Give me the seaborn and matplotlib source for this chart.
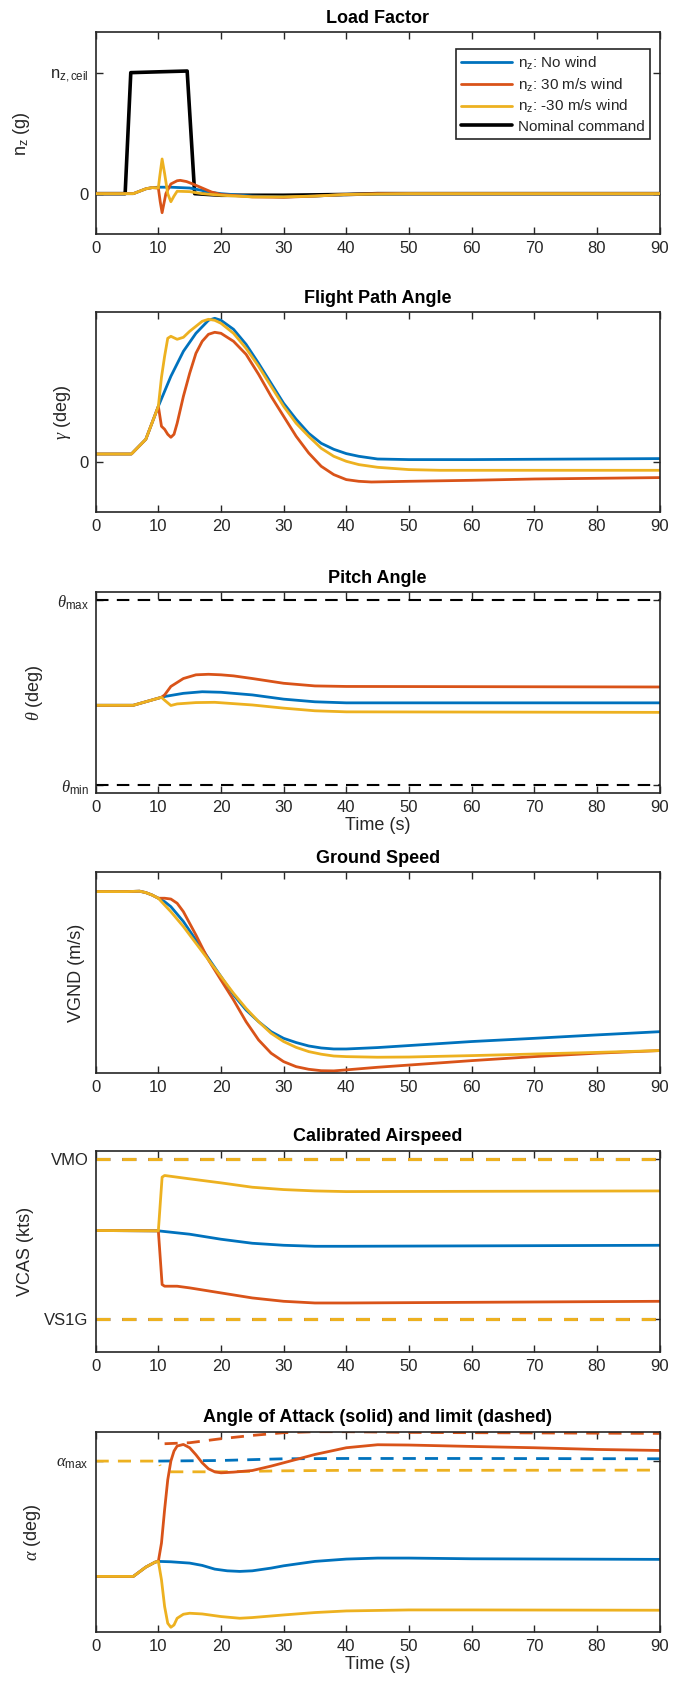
import matplotlib
matplotlib.use("Agg")
import matplotlib.pyplot as plt
import seaborn as sns
import numpy as np
import pandas as pd

sns.set_theme(style="ticks")
plt.rcParams['font.family'] = ['Liberation Sans', 'DejaVu Sans']
plt.rcParams['mathtext.fontset'] = 'custom'
plt.rcParams['mathtext.rm'] = 'Liberation Sans'
plt.rcParams['mathtext.it'] = 'Liberation Serif:italic'
plt.rcParams['mathtext.bf'] = 'Liberation Sans:bold'

BLUE, RED, YEL, BLK = '#0072BD', '#D95319', '#EDB120', '#000000'
AXC = '#262626'

x_ticks = [0, 10, 20, 30, 40, 50, 60, 70, 80, 90]

# ---------------- Load factor ----------------
t_nz_cmd = [0, 4.7, 5.6, 10, 14.6, 15.8, 20, 30, 40, 45, 90]
nz_cmd = [0, 0, 1.50, 1.51, 1.52, 0, -0.02, -0.02, -0.01, 0, 0]
t_nz_none = [0, 6, 7, 8, 9, 10, 12, 15, 17, 18, 20, 25, 30, 35, 40, 50, 90]
nz_none = [0, 0, 0.03, 0.06, 0.075, 0.08, 0.08, 0.07, 0.04, 0.02, 0, -0.03, -0.04, -0.03, -0.01, 0, 0]
t_nz_p30 = [0, 6, 7, 8, 9, 10, 10.3, 10.6, 11.0, 11.2, 12, 13, 13.5, 14.5, 15.5, 17, 18.5, 20, 25, 30, 35, 40, 45, 90]
nz_p30 = [0, 0, 0.03, 0.06, 0.075, 0.07, -0.10, -0.236, -0.08, 0, 0.12, 0.16, 0.165, 0.15, 0.12, 0.07, 0.02, -0.01, -0.04, -0.045, -0.03, -0.01, 0, 0]
t_nz_m30 = [0, 6, 7, 8, 9, 10, 10.2, 10.6, 11, 11.5, 12, 12.5, 13, 15, 17, 20, 25, 30, 35, 40, 50, 90]
nz_m30 = [0, 0, 0.03, 0.06, 0.075, 0.07, 0.2, 0.43, 0.25, 0.0, -0.10, -0.03, 0.03, 0.025, 0.0, -0.02, -0.04, -0.04, -0.03, -0.01, 0, 0]
nz_ceil = 1.5
nz_ylim = (-0.5, 2.0)

# ---------------- Flight path angle ----------------
t_g_none = [0, 5.7, 8, 10, 12, 14, 16, 18, 19, 20, 22, 24, 26, 28, 30, 32, 34, 36, 38, 40, 42, 45, 50, 60, 90]
g_none = [0.83, 0.83, 2.3, 5.6, 8.6, 11.1, 12.9, 14.2, 14.4, 14.2, 13.3, 11.8, 9.9, 7.9, 5.9, 4.3, 2.9, 1.9, 1.3, 0.87, 0.6, 0.33, 0.27, 0.27, 0.37]
t_g_p30 = [0, 5.7, 8, 10, 10.5, 11, 11.5, 12, 12.5, 13, 14, 15, 16, 17, 18, 19, 20, 22, 24, 26, 28, 30, 32, 34, 36, 38, 40, 42, 44, 50, 60, 70, 80, 90]
g_p30 = [0.83, 0.83, 2.3, 5.6, 3.6, 3.3, 2.8, 2.5, 2.8, 3.9, 6.6, 8.9, 10.9, 12.1, 12.8, 13.0, 12.9, 12.1, 10.8, 8.8, 6.6, 4.6, 2.6, 0.93, -0.4, -1.23, -1.73, -1.9, -1.97, -1.9, -1.8, -1.67, -1.6, -1.53]
t_g_m30 = [0, 5.7, 8, 10, 10.5, 11, 11.5, 12, 13, 14, 15, 16, 17, 18, 19, 20, 22, 24, 26, 28, 30, 32, 34, 36, 38, 40, 42, 45, 50, 55, 90]
g_m30 = [0.83, 0.83, 2.3, 5.6, 8.5, 10.6, 12.4, 12.6, 12.3, 12.5, 13.1, 13.6, 14.1, 14.3, 14.2, 13.9, 12.9, 11.4, 9.6, 7.6, 5.6, 3.9, 2.6, 1.4, 0.6, 0.1, -0.23, -0.5, -0.73, -0.8, -0.8]
g_ylim = (-5, 15)

# ---------------- Pitch angle ----------------
t_th_none = [0, 6, 10.5, 11, 14, 17, 20, 25, 30, 35, 40, 90]
th_none = [5.14, 5.14, 6.65, 6.8, 7.4, 7.7, 7.6, 7.1, 6.3, 5.8, 5.6, 5.6]
t_th_p30 = [0, 6, 10.5, 11, 12, 14, 16, 18, 20, 22, 25, 30, 35, 40, 90]
th_p30 = [5.14, 5.14, 6.65, 7.1, 8.7, 10.2, 10.9, 11.0, 10.9, 10.7, 10.2, 9.3, 8.8, 8.7, 8.6]
t_th_m30 = [0, 6, 10.5, 11, 12, 13, 16, 19, 25, 30, 35, 40, 90]
th_m30 = [5.14, 5.14, 6.65, 6.1, 5.1, 5.4, 5.65, 5.7, 5.2, 4.6, 4.1, 3.9, 3.8]
th_max, th_min = 25.0, -10.0
th_ylim = (-11.5, 26.5)

# ---------------- Ground speed ----------------
t_v_none = [0, 5, 7, 8, 9, 10, 11, 12, 14, 16, 18, 20, 22, 24, 26, 28, 30, 32, 34, 36, 38, 40, 45, 50, 60, 70, 80, 90]
v_none = [90.4, 90.4, 90.6, 89.9, 88.7, 87.1, 85.4, 82.9, 75.5, 66.3, 57.2, 48.1, 39.0, 31.5, 25.7, 20.7, 17.4, 15.3, 13.6, 12.6, 12.1, 12.1, 12.8, 13.8, 15.8, 17.4, 19.1, 20.7]
t_v_p30 = [0, 5, 7, 8, 9, 10, 11, 12, 13, 14, 16, 18, 20, 22, 24, 26, 28, 30, 32, 34, 36, 38, 40, 45, 50, 60, 70, 80, 90]
v_p30 = [90.4, 90.4, 90.6, 89.9, 88.7, 87.1, 87.1, 86.7, 84.6, 80.4, 68.8, 56.4, 46.4, 36.5, 25.7, 16.6, 10.0, 5.8, 3.3, 2.0, 1.3, 1.2, 1.7, 3.0, 4.1, 6.3, 8.3, 10.0, 11.3]
t_v_m30 = [0, 5, 7, 8, 9, 10, 11, 12, 14, 16, 18, 20, 22, 24, 26, 28, 30, 32, 34, 36, 38, 40, 45, 50, 60, 70, 80, 90]
v_m30 = [90.4, 90.4, 90.6, 89.9, 88.7, 87.1, 83.7, 80.4, 73.0, 64.7, 56.4, 48.1, 39.8, 32.3, 25.7, 19.9, 15.8, 12.9, 10.8, 9.5, 8.6, 8.3, 8.0, 8.1, 8.8, 9.6, 10.4, 11.3]
v_ylim = (0, 100)

# ---------------- Calibrated airspeed ----------------
t_c_none = [0, 10, 15, 20, 25, 30, 35, 40, 90]
c_none = [245.2, 244.8, 240.8, 234.8, 230.0, 227.6, 226.4, 226.4, 227.6]
t_c_p30 = [0, 10, 10.6, 11, 13, 15, 20, 25, 30, 35, 40, 50, 60, 90]
c_p30 = [245.2, 244.8, 180.8, 178.8, 178.8, 176.8, 170.8, 164.8, 160.8, 158.8, 158.8, 159.2, 159.6, 160.8]
t_c_m30 = [0, 10, 10.6, 11, 15, 20, 25, 30, 35, 40, 90]
c_m30 = [245.2, 244.8, 308.8, 310.8, 306.8, 302.0, 296.8, 294.0, 292.4, 291.6, 292.4]
v_mo, v_s1g = 330.0, 140.0
c_ylim = (100, 340)

# ---------------- Angle of attack ----------------
t_a_none = [0, 6, 8, 9.5, 10, 12, 15, 17, 19, 21, 23, 25, 28, 30, 35, 40, 45, 50, 60, 90]
a_none = [5.57, 5.57, 6.5, 7.0, 7.07, 7.03, 6.9, 6.67, 6.3, 6.13, 6.07, 6.13, 6.4, 6.63, 7.07, 7.3, 7.4, 7.4, 7.33, 7.27]
t_a_p30 = [0, 6, 8, 9.5, 10, 10.5, 11, 11.5, 12, 12.5, 13, 14, 15, 16, 17, 18, 19, 20, 22, 25, 28, 30, 35, 40, 45, 50, 60, 70, 80, 90]
a_p30 = [5.57, 5.57, 6.5, 7.0, 7.07, 8.9, 12.23, 15.2, 17.07, 18.07, 18.57, 18.73, 18.4, 17.7, 16.9, 16.3, 16.0, 15.9, 15.97, 16.13, 16.57, 16.9, 17.73, 18.4, 18.7, 18.67, 18.53, 18.4, 18.23, 18.13]
t_a_m30 = [0, 6, 8, 9.5, 10, 10.5, 11, 11.5, 12, 12.5, 13, 14, 15, 17, 20, 23, 25, 30, 35, 40, 50, 60, 90]
a_m30 = [5.57, 5.57, 6.5, 7.0, 7.07, 5.23, 2.57, 0.9, 0.5, 0.73, 1.4, 1.8, 1.9, 1.83, 1.57, 1.4, 1.47, 1.73, 1.97, 2.13, 2.23, 2.23, 2.2]
# alpha limits (dashed)
t_al_none = [10, 20, 30, 40, 60, 90]
al_none = [17.07, 17.13, 17.3, 17.33, 17.33, 17.3]
t_al_p30 = [11.0, 15, 20, 25, 30, 35, 40, 50, 60, 90]
al_p30 = [18.8, 18.9, 19.3, 19.63, 19.9, 20.0, 20.0, 19.93, 19.9, 19.83]
t_al_m30_pre = [0, 10, 10.3]
al_m30_pre = [17.07, 17.07, 16.6]
t_al_m30 = [11.9, 20, 30, 40, 60, 90]
al_m30 = [16.0, 16.0, 16.1, 16.15, 16.15, 16.17]
a_max = 17.07
a_ylim = (0, 20)

W, H = 683, 1682
fig = plt.figure(figsize=(W / 100, H / 100), dpi=100)
L, R = 95.7, 659.5
panels = [(32.3, 234.0), (312.3, 512.3), (592.3, 793.3), (872.3, 1073.3), (1151.0, 1352.3), (1431.7, 1632.3)]
axes = []
for top, bot in panels:
    ax = fig.add_axes([L / W, 1 - bot / H, (R - L) / W, (bot - top) / H])
    axes.append(ax)

LW = 2.0

def line(ax, t, v, color, lw=LW, ls='-', label=None, z=2):
    df = pd.DataFrame({'t': t, 'v': v})
    sns.lineplot(data=df, x='t', y='v', ax=ax, color=color, linewidth=lw, linestyle=ls,
                 estimator=None, sort=False, label=label, zorder=z)

def style(ax, title, ylabel, ylim, yt, ytl, lab_x, xlabel=None):
    ax.set_xlim(0, 90)
    ax.set_ylim(*ylim)
    ax.set_xticks(x_ticks)
    ax.set_xticklabels([str(v) for v in x_ticks])
    ax.set_yticks(yt)
    ax.set_yticklabels(ytl)
    ax.tick_params(direction='in', length=5, width=1.0, top=True, right=True,
                   labelsize=12, colors=AXC, pad=5)
    for s in ax.spines.values():
        s.set_visible(True)
        s.set_color(AXC)
        s.set_linewidth(1.2)
    ax.set_title(title, fontsize=13, fontweight='bold', pad=7, color='black')
    ax.set_ylabel(ylabel, fontsize=13, color=AXC)
    ax.yaxis.set_label_coords(lab_x, 0.5)
    if xlabel:
        ax.set_xlabel(xlabel, fontsize=13, color=AXC, labelpad=1)
    else:
        ax.set_xlabel('')
    ax.grid(False)

# Panel 1
ax = axes[0]
line(ax, t_nz_none, nz_none, BLUE, label=r'n$_{\mathrm{z}}$: No wind', z=3)
line(ax, t_nz_p30, nz_p30, RED, label=r'n$_{\mathrm{z}}$: 30 m/s wind', z=4)
line(ax, t_nz_m30, nz_m30, YEL, label=r'n$_{\mathrm{z}}$: -30 m/s wind', z=5)
line(ax, t_nz_cmd, nz_cmd, BLK, lw=2.6, label='Nominal command', z=2)
h, l = ax.get_legend_handles_labels()
leg = ax.legend(h, l, loc='upper right',
                bbox_to_anchor=(0.983, 0.915), fontsize=11, frameon=True, fancybox=False,
                edgecolor=AXC, framealpha=1, handlelength=3.3, labelspacing=0.3,
                borderpad=0.35, handletextpad=0.4, borderaxespad=0)
leg.get_frame().set_linewidth(1.2)
style(ax, 'Load Factor', r'n$_{\mathrm{z}}$ (g)', nz_ylim, [0, nz_ceil],
      ['0', r'n$_{\mathrm{z,ceil}}$'], -0.113)

# Panel 2
ax = axes[1]
line(ax, t_g_none, g_none, BLUE)
line(ax, t_g_p30, g_p30, RED)
line(ax, t_g_m30, g_m30, YEL)
style(ax, 'Flight Path Angle', r'$\gamma$ (deg)', g_ylim, [0], ['0'], -0.040)

# Panel 3
ax = axes[2]
ax.axhline(th_max, color=BLK, lw=1.5, ls=(0, (6, 4)), zorder=1)
ax.axhline(th_min, color=BLK, lw=1.5, ls=(0, (6, 4)), zorder=1)
line(ax, t_th_none, th_none, BLUE)
line(ax, t_th_p30, th_p30, RED)
line(ax, t_th_m30, th_m30, YEL)
style(ax, 'Pitch Angle', r'$\theta$ (deg)', th_ylim, [th_min, th_max],
      [r'$\theta_{\mathrm{min}}$', r'$\theta_{\mathrm{max}}$'], -0.090, xlabel='Time (s)')

# Panel 4
ax = axes[3]
line(ax, t_v_none, v_none, BLUE)
line(ax, t_v_p30, v_p30, RED)
line(ax, t_v_m30, v_m30, YEL)
style(ax, 'Ground Speed', 'VGND (m/s)', v_ylim, [], [], -0.019)

# Panel 5
ax = axes[4]
for col in (BLUE, RED, YEL):
    ax.axhline(v_mo, color=col, lw=2.2, ls=(0, (4.5, 4)), zorder=1)
    ax.axhline(v_s1g, color=col, lw=2.2, ls=(0, (4.5, 4)), zorder=1)
line(ax, t_c_none, c_none, BLUE)
line(ax, t_c_p30, c_p30, RED)
line(ax, t_c_m30, c_m30, YEL)
style(ax, 'Calibrated Airspeed', 'VCAS (kts)', c_ylim, [v_s1g, v_mo], ['VS1G', 'VMO'], -0.109)

# Panel 6
ax = axes[5]
DASH = (0, (4.7, 3.3))
line(ax, t_al_none, al_none, BLUE, ls=DASH, z=1)
line(ax, t_al_p30, al_p30, RED, ls=DASH, z=1)
line(ax, t_al_m30_pre, al_m30_pre, YEL, ls=DASH, z=1)
line(ax, t_al_m30, al_m30, YEL, ls=DASH, z=1)
line(ax, t_a_none, a_none, BLUE)
line(ax, t_a_p30, a_p30, RED)
line(ax, t_a_m30, a_m30, YEL)
style(ax, 'Angle of Attack (solid) and limit (dashed)', r'$\alpha$ (deg)', a_ylim, [a_max],
      [r'$\alpha_{\mathrm{max}}$'], -0.093, xlabel='Time (s)')

for a in axes[1:]:
    lg = a.get_legend()
    if lg:
        lg.remove()

fig.savefig('out.png', dpi=100, facecolor='white')
